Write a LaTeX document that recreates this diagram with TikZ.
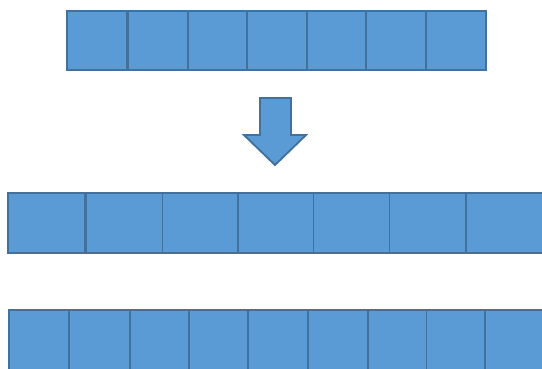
\documentclass[tikz,border=0pt]{standalone}
\begin{document}
\begin{tikzpicture}[x=1pt,y=-1pt,
  cell/.style={draw=boxedge,fill=boxfill,line width=1.9pt,rectangle,anchor=north west,inner sep=0pt,outer sep=0pt},
  arrowshape/.style={draw=boxedge,fill=boxfill,line width=1.9pt,line join=miter}]
\definecolor{boxfill}{HTML}{5B9BD5}
\definecolor{boxedge}{HTML}{41719C}
\useasboundingbox (0,0) rectangle (542,369);
\clip (0,0) rectangle (542,369);
% top row
\foreach \i/\x in {1/67,2/127.9,3/187.7,4/247.4,5/306.6,6/366.3,7/426}{
  \node[cell,minimum width=59.9pt,minimum height=59pt] (t\i) at (\x,11) {};
}
% arrow
\draw[arrowshape] (260,98) -- (291,98) -- (291,135) -- (306,135) -- (275,165) -- (244,135) -- (260,135) -- cycle;
% middle row
\foreach \i/\x in {1/8,2/86,3/162.5,4/238,5/313.5,6/389.5,7/466}{
  \node[cell,minimum width=76.5pt,minimum height=60pt] (m\i) at (\x,193) {};
}
% bottom row
\foreach \i/\x in {1/9,2/69.5,3/129.8,4/189,5/248,6/308,7/368,8/426.5,9/485}{
  \node[cell,minimum width=60pt,minimum height=70pt] (b\i) at (\x,310) {};
}
\end{tikzpicture}
\end{document}
